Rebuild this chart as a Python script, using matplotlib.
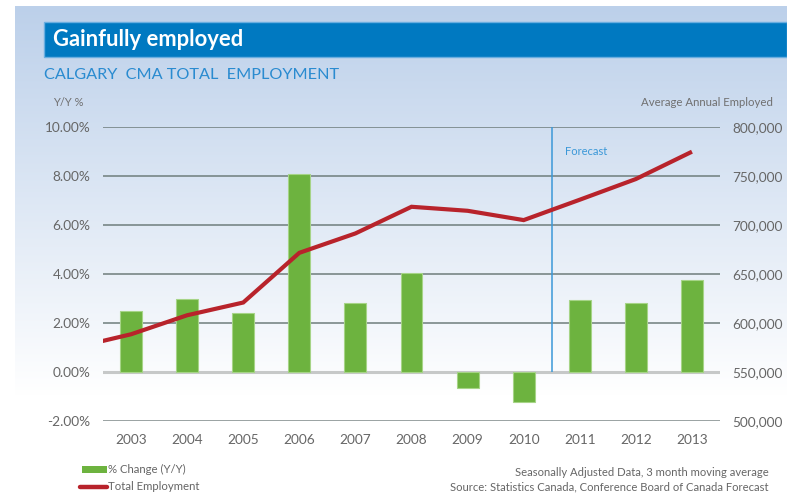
import matplotlib
matplotlib.use("Agg")
import matplotlib.pyplot as plt
import numpy as np
from matplotlib.patches import Rectangle
from matplotlib.lines import Line2D
from matplotlib.ticker import FuncFormatter

plt.rcParams['font.family'] = ['Lato', 'DejaVu Sans']

# ---- data ----
years = ["2003", "2004", "2005", "2006", "2007", "2008",
         "2009", "2010", "2011", "2012", "2013"]
pct_change = [2.5, 3.0, 2.4, 8.07, 2.83, 4.05, -0.67, -1.24, 2.95, 2.83, 3.77]
# employment series starts one year earlier (2002) so the line enters from the left edge
emp_years = ["2002"] + years
total_employment = [575000, 588500, 607900, 620900, 671600, 691400,
                    718600, 714500, 705000, 725800, 746900, 774800]
left_ticks = [-2, 0, 2, 4, 6, 8, 10]
right_ticks = [500000, 550000, 600000, 650000, 700000, 750000, 800000]
forecast_start = 7.5   # boundary between 2010 actuals and 2011 forecast

W, H = 787, 493
fig = plt.figure(figsize=(W / 100, H / 100), dpi=100)

# ---- background panel with vertical gradient ----
bg = fig.add_axes([0, 0, 1, 1], zorder=-10)
bg.set_xlim(0, W)
bg.set_ylim(H, 0)
bg.axis("off")
top = np.array([0xbc, 0xd0, 0xea]) / 255.0
rows = np.arange(H)
t = np.clip((rows - 6) / (395 - 6), 0, 1)[:, None]
grad = top * (1 - t) + np.ones(3) * t
img = np.repeat(grad[:, None, :], W, axis=1)
img[:6, :, :] = 1.0
img[:, :15, :] = 1.0
bg.imshow(img, extent=[0, W, H, 0], aspect="auto", interpolation="bilinear")

# title bar
bg.add_patch(Rectangle((44, 22), W - 44, 35, facecolor="#0079c1",
                       edgecolor="#6aaee0", linewidth=1.0))
bg.text(53, 40, "Gainfully employed", color="white", fontsize=15.8,
        fontweight="bold", va="center", ha="left")
bg.text(44, 75, "CALGARY  CMA TOTAL  EMPLOYMENT", color="#2a8bd0", fontsize=11.7,
        va="center", ha="left")
bg.text(53, 103, "Y/Y %", color="#707070", fontsize=8, va="center", ha="left")
bg.text(773, 103, "Average Annual Employed", color="#707070", fontsize=8.2,
        va="center", ha="right")

# ---- main axes ----
ax = fig.add_axes([103 / W, 1 - 421 / H, (720 - 103) / W, (421 - 127) / H])
ax.patch.set_alpha(0)
x = np.arange(len(years))
ax.set_xlim(-0.5, len(years) - 0.5)
ax.set_ylim(-2, 10)

for v in left_ticks:
    if v == 0:
        ax.axhline(v, color="#c6c8c8", lw=2.2, zorder=1)
    elif v == -2:
        ax.axhline(v, color="#9aa2a2", lw=1.4, zorder=1)
    else:
        ax.axhline(v, color="#6f7d7c", lw=1.1, zorder=1)

ax.bar(x, pct_change, width=0.39, color="#6db33f", edgecolor="#a6d487",
       linewidth=0.8, zorder=2)

ax.vlines(forecast_start, 0, 10, color="#3b98d8", lw=1.1, zorder=3)
ax.text(forecast_start + 0.24, 9.0, "Forecast", color="#3b98d8", fontsize=8,
        va="center", ha="left")

ax.set_xticks(x)
ax.set_xticklabels(years)
ax.set_yticks(left_ticks)
ax.yaxis.set_major_formatter(FuncFormatter(lambda v, p: f"{v:.2f}%"))
ax.tick_params(axis="both", length=0, colors="#666666", labelsize=9.8)
ax.tick_params(axis="y", pad=9)
ax.tick_params(axis="x", pad=9)
for s in ax.spines.values():
    s.set_visible(False)

# ---- secondary axis: total employment ----
ax2 = ax.twinx()
ax2.set_ylim(500000, 800000)
ax2.set_xlim(-0.5, len(years) - 0.5)
ex = np.arange(len(emp_years)) - 1
ax2.plot(ex, total_employment, color="#b8232b", lw=3.0, solid_capstyle="butt",
         solid_joinstyle="miter", zorder=4)
ax2.set_yticks(right_ticks)
ax2.yaxis.set_major_formatter(FuncFormatter(lambda v, p: f"{int(v):,}"))
ax2.tick_params(axis="y", length=0, colors="#666666", labelsize=9.8, pad=9)
for s in ax2.spines.values():
    s.set_visible(False)

# ---- legend and notes ----
bg.add_patch(Rectangle((82, 466), 25, 7, facecolor="#6db33f", edgecolor="none"))
bg.text(108, 469.5, "% Change (Y/Y)", color="#666666", fontsize=8.2,
        va="center", ha="left")
bg.add_line(Line2D([80, 107], [487, 487], color="#b8232b", lw=3.2,
                   solid_capstyle="round"))
bg.text(108, 487, "Total Employment", color="#666666", fontsize=8.2,
        va="center", ha="left")
bg.text(769, 473, "Seasonally Adjusted Data, 3 month moving average",
        color="#666666", fontsize=8.1, va="center", ha="right")
bg.text(769, 487, "Source: Statistics Canada, Conference Board of Canada Forecast",
        color="#666666", fontsize=8.1, va="center", ha="right")

fig.savefig("out.png", dpi=100)
